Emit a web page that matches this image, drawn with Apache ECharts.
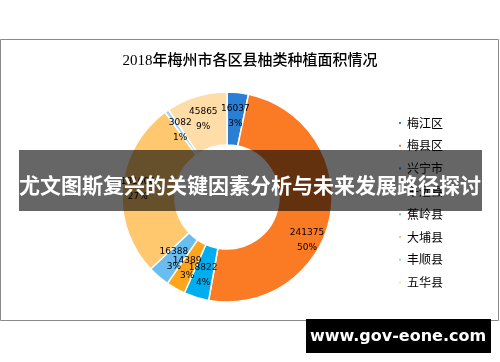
<!DOCTYPE html>
<html><head><meta charset="utf-8">
<script src="https://cdn.jsdelivr.net/npm/echarts@6/dist/echarts.min.js"></script>
<style>html,body{margin:0;padding:0;background:#fff}#c{width:500px;height:362px}</style>
</head><body><div id="c"></div>
<script>
const titleText = '2018年梅州市各区县柚类种植面积情况';
const categories = ['梅江区','梅县区','兴宁市','平远县','蕉岭县','大埔县','丰顺县','五华县'];
const values = [16037, 241375, 18822, 14389, 16388, 131600, 3082, 45865];
const colors = ['#2A7FD4','#FB7B24','#00AEEF','#FFA51C','#6ABDF0','#FFC76E','#9CD2F4','#FFDDA8'];
const bannerText = '尤文图斯复兴的关键因素分析与未来发展路径探讨';
const siteText = 'www.gov-eone.com';

const labelOffsets = {'梅县区':[0,28],'大埔县':[-8,0]};

const chart = echarts.init(document.getElementById('c'), null, {renderer:'canvas'});
chart.setOption({
  animation:false,
  backgroundColor:'#fff',
  title:{text:titleText,left:'center',top:49,
    textStyle:{fontSize:15,fontWeight:500,color:'#000',fontFamily:"'Liberation Serif','Noto Sans CJK SC'"}},
  legend:{orient:'vertical',left:392,top:111,itemWidth:4,itemHeight:4,itemGap:8.8,icon:'rect',
    textStyle:{fontSize:12,color:'#000',lineHeight:14,fontFamily:"'Noto Sans CJK SC'"},
    data:categories},
  graphic:[
    {type:'rect',z:-1,shape:{x:0.5,y:39.5,width:498,height:281},style:{fill:null,stroke:'#8a8a8a',lineWidth:1}},
    {type:'rect',z:100,shape:{x:19,y:150,width:463,height:61},style:{fill:'rgba(0,0,0,0.6)'}},
    {type:'text',z:101,x:250,y:185,style:{text:bannerText,fill:'#fff',font:"bold 21px 'Noto Sans CJK SC'",textAlign:'center',textVerticalAlign:'middle'}},
    {type:'rect',z:100,shape:{x:306,y:319,width:185,height:34},style:{fill:'#000'}},
    {type:'text',z:101,x:398,y:337,style:{text:siteText,fill:'#fff',font:"bold 16px 'DejaVu Sans'",textAlign:'center',textVerticalAlign:'middle'}}
  ],
  series:[{
    type:'pie',center:[227,197],radius:[52,105],startAngle:90,clockwise:true,
    percentPrecision:0,
    color:colors,
    itemStyle:{borderColor:'#fff',borderWidth:1.5},
    emphasis:{disabled:true},
    labelLayout:{hideOverlap:false},
    label:{show:true,position:'inside',formatter:'{c}\n{d}%',fontSize:9,lineHeight:15,color:'#000',fontFamily:"'DejaVu Sans'"},
    labelLine:{show:false},
    data:categories.map((n,i)=>{
      const d={name:n,value:values[i]};
      if(labelOffsets[n]) d.label={offset:labelOffsets[n]};
      return d;
    })
  }]
});
</script></body></html>
